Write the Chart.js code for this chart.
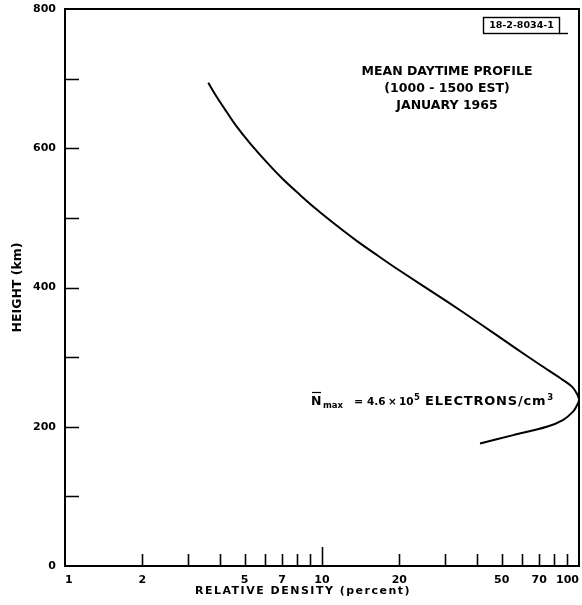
<!DOCTYPE html>
<html>
<head>
<meta charset="utf-8">
<script src="https://cdn.jsdelivr.net/npm/chart.js@4.4.1/dist/chart.umd.min.js"></script>
<style>
  html, body { margin: 0; padding: 0; background: #fff; }
  #wrap { width: 582px; height: 605px; }
</style>
</head>
<body>
<div id="wrap"><canvas id="c" width="582" height="605"></canvas></div>
<script>
// ---- data ----
const relDensity = [3.61, 3.89, 4.26, 4.66, 5.25, 6.09, 7.07, 8.21, 9.54, 11.4, 13.65, 16.3, 20.1, 30.6, 41.2, 55.5, 70.5, 84.4, 93.7, 98.3, 100, 98.3, 95.0, 86.9, 74.9, 55.5, 41.2];
const heightKm   = [694, 674, 652, 631, 607, 580, 555, 533, 512, 489, 467, 447, 424, 380, 348, 315, 289, 270, 258, 247, 238.5, 231, 222, 210, 200, 188, 176];

const xLabelValues = [1, 2, 5, 7, 10, 20, 50, 70, 100];
const xTickMarks   = [2, 3, 4, 5, 6, 7, 8, 9, 10, 20, 30, 40, 50, 60, 70, 80, 90];
const yLabelValues = [0, 200, 400, 600, 800];
const yTickMarks   = [100, 200, 300, 400, 500, 600, 700];

const titleLines = ["MEAN DAYTIME PROFILE", "(1000 - 1500 EST)", "JANUARY 1965"];
const figureId = "18-2-8034-1";
const xTitle = "RELATIVE DENSITY (percent)";
const yTitle = "HEIGHT (km)";

const FONT = "'DejaVu Sans', 'Liberation Sans', sans-serif";

const points = relDensity.map((v, i) => ({ x: v, y: heightKm[i] }));

const decor = {
  id: 'decor',
  afterDraw(chart) {
    const ctx = chart.ctx;
    const a = chart.chartArea;
    const xs = chart.scales.x, ys = chart.scales.y;
    const hasLS = ('letterSpacing' in ctx);
    ctx.save();
    ctx.strokeStyle = '#000';
    ctx.lineWidth = 2;
    // frame
    ctx.strokeRect(a.left, a.top, a.right - a.left, a.bottom - a.top);
    // inward ticks on y axis
    ctx.lineWidth = 1.6;
    ctx.beginPath();
    yTickMarks.forEach(v => {
      const py = Math.round(ys.getPixelForValue(v)) + 0.5;
      ctx.moveTo(a.left, py);
      ctx.lineTo(a.left + 14, py);
    });
    // inward ticks on x axis
    xTickMarks.forEach(v => {
      const px = Math.round(xs.getPixelForValue(v)) + 0.5;
      const len = v === 10 ? 19 : 12;
      ctx.moveTo(px, a.bottom);
      ctx.lineTo(px, a.bottom - len);
    });
    ctx.stroke();

    // x axis title
    ctx.fillStyle = '#000';
    ctx.font = "bold 11px " + FONT;
    ctx.textAlign = 'center';
    ctx.textBaseline = 'middle';
    if (hasLS) ctx.letterSpacing = '1.5px';
    ctx.fillText(xTitle, 303, 591);
    if (hasLS) ctx.letterSpacing = '0px';

    // title block
    ctx.font = "bold 12.5px " + FONT;
    ctx.fillText(titleLines[0], 447, 72);
    ctx.fillText(titleLines[1], 447, 89);
    ctx.fillText(titleLines[2], 447, 106);

    // figure id box
    ctx.lineWidth = 1.4;
    ctx.strokeRect(483.5, 17.5, 76, 16);
    ctx.beginPath();
    ctx.moveTo(559, 33.5); ctx.lineTo(568, 33.5);
    ctx.stroke();
    ctx.font = "bold 9.5px " + FONT;
    ctx.fillText(figureId, 521.5, 26);

    // Nmax annotation
    ctx.textAlign = 'left';
    ctx.textBaseline = 'alphabetic';
    const base = 405;
    ctx.font = "bold 12.5px " + FONT;
    ctx.fillText("N", 311, base);
    ctx.lineWidth = 1.2;
    ctx.beginPath();
    ctx.moveTo(312, base - 12.5); ctx.lineTo(321, base - 12.5);
    ctx.stroke();
    ctx.font = "bold 8.5px " + FONT;
    ctx.fillText("max", 323, base + 3);
    ctx.font = "bold 11px " + FONT;
    ctx.fillText("=", 354, base);
    ctx.font = "bold 10.5px " + FONT;
    ctx.fillText("4.6", 367, base);
    ctx.fillText("\u00d7", 388, base);
    ctx.fillText("10", 399, base);
    ctx.font = "bold 8.5px " + FONT;
    ctx.fillText("5", 414, base - 5);
    ctx.font = "bold 13px " + FONT;
    if (hasLS) ctx.letterSpacing = '0.8px';
    ctx.fillText("ELECTRONS/cm", 425, base);
    const w = ctx.measureText("ELECTRONS/cm").width;
    if (hasLS) ctx.letterSpacing = '0px';
    ctx.font = "bold 8.5px " + FONT;
    ctx.fillText("3", 425 + w + 1, base - 5);
    ctx.restore();
  }
};

new Chart(document.getElementById('c'), {
  type: 'scatter',
  data: {
    datasets: [{
      data: points,
      showLine: true,
      borderColor: '#000',
      borderWidth: 2,
      pointRadius: 0,
      tension: 0.3,
      fill: false
    }]
  },
  options: {
    responsive: false,
    animation: false,
    devicePixelRatio: 1,
    layout: { padding: { left: 0, right: 3, top: 9, bottom: 0 } },
    plugins: { legend: { display: false }, tooltip: { enabled: false } },
    scales: {
      x: {
        type: 'logarithmic',
        min: 1, max: 100,
        grid: { display: false, drawTicks: false },
        border: { display: false },
        afterBuildTicks: s => { s.ticks = xLabelValues.map(v => ({ value: v })); },
        ticks: {
          autoSkip: false, maxRotation: 0, padding: 8, align: 'inner',
          color: '#000',
          font: { family: FONT, size: 11, weight: 'bold' },
          callback: v => String(v)
        },
        afterFit: s => { s.height = 39; s.paddingLeft = 0; s.paddingRight = 0; }
      },
      y: {
        type: 'linear',
        min: 0, max: 800,
        grid: { display: false, drawTicks: false },
        border: { display: false },
        afterBuildTicks: s => { s.ticks = yLabelValues.map(v => ({ value: v })); },
        ticks: {
          padding: 9, color: '#000',
          font: { family: FONT, size: 11, weight: 'bold' },
          callback: v => String(v)
        },
        title: {
          display: true, text: yTitle, color: '#000',
          font: { family: FONT, size: 12.5, weight: 'bold' },
          padding: { top: 10, bottom: 0 }
        },
        afterFit: s => { s.width = 65; s.paddingTop = 0; s.paddingBottom = 0; }
      }
    }
  },
  plugins: [decor]
});
</script>
</body>
</html>
